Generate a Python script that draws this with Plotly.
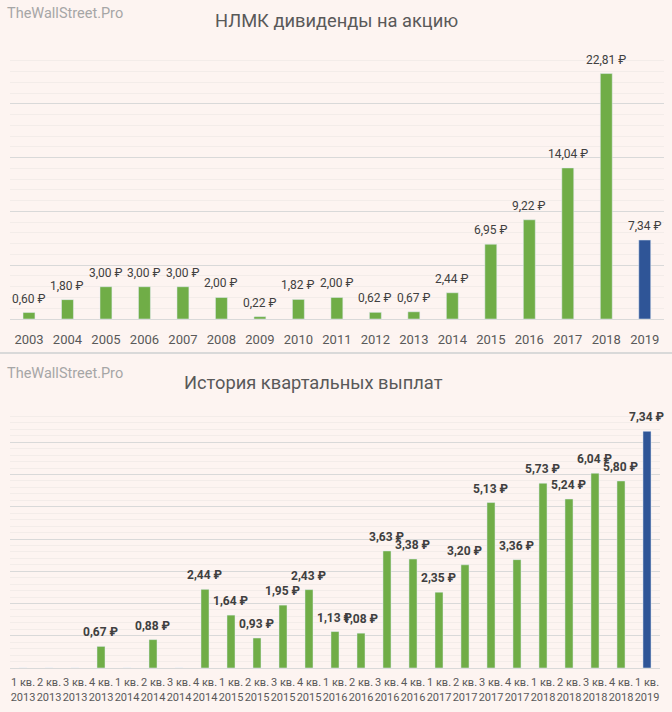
import plotly.graph_objects as go

# ---------------- data ----------------
years = [str(y) for y in range(2003, 2020)]
annual_div = [0.60, 1.80, 3.00, 3.00, 3.00, 2.00, 0.22, 1.82, 2.00, 0.62,
              0.67, 2.44, 6.95, 9.22, 14.04, 22.81, 7.34]

quarter_names = ["1 кв.", "2 кв.", "3 кв.", "4 кв."]
quarter_years = ["2013"] * 4 + ["2014"] * 4 + ["2015"] * 4 + ["2016"] * 4 + \
                ["2017"] * 4 + ["2018"] * 4 + ["2019"]
quarter_idx = [0, 1, 2, 3] * 6 + [0]
quarter_labels = [f"{quarter_names[q]}<br>{y}" for q, y in zip(quarter_idx, quarter_years)]
quarterly_div = [0, 0, 0, 0.67,
                 0, 0.88, 0, 2.44,
                 1.64, 0.93, 1.95, 2.43,
                 1.13, 1.08, 3.63, 3.38,
                 2.35, 3.20, 5.13, 3.36,
                 5.73, 5.24, 6.04, 5.80,
                 7.34]

title_top = "НЛМК дивиденды на акцию"
title_bottom = "История квартальных выплат"
watermark = "TheWallStreet.Pro"

# ---------------- style ----------------
GREEN = "#70AD47"
BLUE = "#2F5597"
BG = "#FDF4F1"
FONT = "Roboto"
MAJOR = "#D9D9D9"
MINOR = "#F3ECE9"

def fmt(v):
    return (f"{v:.2f}".replace(".", ",") + " ₽") if v else ""

def colors(n):
    return [GREEN] * (n - 1) + [BLUE]

fig = go.Figure()

fig.add_trace(go.Bar(
    x=years, y=annual_div, marker_color=colors(len(years)),
    xaxis="x", yaxis="y", hoverinfo="skip", showlegend=False,
))
fig.add_trace(go.Bar(
    x=quarter_labels, y=quarterly_div, marker_color=colors(len(quarter_labels)),
    xaxis="x2", yaxis="y2", hoverinfo="skip", showlegend=False,
))

annotations = []
for i, v in enumerate(annual_div):
    annotations.append(dict(
        x=i, y=v, xref="x", yref="y", text=fmt(v), showarrow=False,
        yanchor="bottom", yshift=5,
        font=dict(family=FONT, size=12, color="#404040"),
    ))
for i, v in enumerate(quarterly_div):
    if v:
        annotations.append(dict(
            x=i, y=v, xref="x2", yref="y2", text="<b>" + fmt(v) + "</b>",
            showarrow=False, yanchor="bottom", yshift=5,
            font=dict(family=FONT, size=12, color="#404040"),
        ))

# titles and watermarks
annotations += [
    dict(text=title_top, x=336 / 672, y=1 - 21 / 712, xref="paper", yref="paper",
         showarrow=False, xanchor="center", yanchor="middle",
         font=dict(family=FONT, size=18.3, color="#595959")),
    dict(text=title_bottom, x=313 / 672, y=1 - 382 / 712, xref="paper", yref="paper",
         showarrow=False, xanchor="center", yanchor="middle",
         font=dict(family=FONT, size=18.3, color="#595959")),
    dict(text=watermark, x=5 / 672, y=1 - 14 / 712, xref="paper", yref="paper",
         showarrow=False, xanchor="left", yanchor="middle",
         font=dict(family=FONT, size=14.5, color="#A6A6A6")),
    dict(text=watermark, x=5 / 672, y=1 - 373 / 712, xref="paper", yref="paper",
         showarrow=False, xanchor="left", yanchor="middle",
         font=dict(family=FONT, size=14.5, color="#A6A6A6")),
]

fig.update_layout(
    width=672, height=712,
    margin=dict(l=0, r=0, t=0, b=0, autoexpand=False),
    paper_bgcolor=BG, plot_bgcolor=BG,
    bargap=0.69,
    font=dict(family=FONT, color="#595959"),
    annotations=annotations,
    shapes=[dict(type="line", xref="paper", yref="paper", x0=0, x1=1,
                 y0=1 - 353 / 712, y1=1 - 353 / 712,
                 line=dict(color=MAJOR, width=2))],
    xaxis=dict(domain=[9.75 / 672, 664 / 672], anchor="y", type="category",
               range=[-0.5, len(years) - 0.5], automargin=False,
               showline=True, linecolor=MAJOR, linewidth=1, ticks="",
               showgrid=False, ticklabelstandoff=8,
               tickfont=dict(family=FONT, size=13, color="#595959")),
    yaxis=dict(domain=[1 - 319 / 712, 1 - 50 / 712], anchor="x", range=[0, 25],
               automargin=False,
               dtick=5, showgrid=True, gridcolor=MAJOR, gridwidth=1,
               minor=dict(dtick=1, showgrid=True, gridcolor=MINOR, gridwidth=1),
               showticklabels=False, zeroline=False, ticks=""),
    xaxis2=dict(domain=[10 / 672, 660 / 672], anchor="y2", type="category",
                range=[-0.5, len(quarter_labels) - 0.5], automargin=False,
                showline=True, linecolor=MAJOR, linewidth=1, ticks="",
                showgrid=False, tickangle=0, ticklabelstandoff=4,
                tickfont=dict(family=FONT, size=11, color="#595959")),
    yaxis2=dict(domain=[1 - 668 / 712, 1 - 410 / 712], anchor="x2", range=[0, 8],
                automargin=False,
                dtick=1, showgrid=True, gridcolor=MAJOR, gridwidth=1,
                minor=dict(dtick=0.2, showgrid=True, gridcolor=MINOR, gridwidth=1),
                showticklabels=False, zeroline=False, ticks=""),
)

fig.write_html("out.html", config={"displayModeBar": False},
               post_script="document.body.style.margin='0';")
